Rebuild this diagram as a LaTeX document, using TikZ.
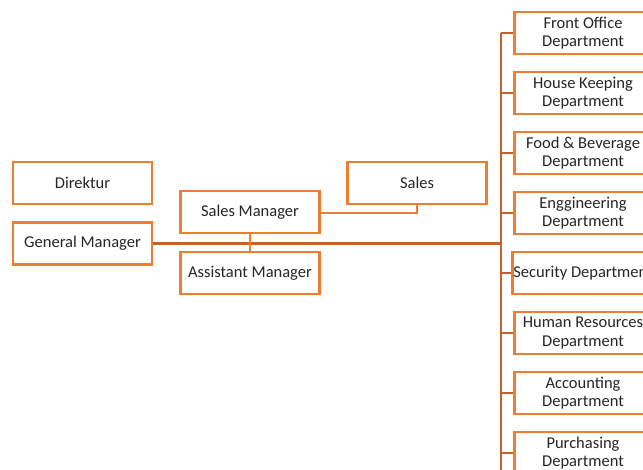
\documentclass[tikz,border=0pt]{standalone}
\usepackage{fontspec}
\setmainfont{Carlito}
\usetikzlibrary{positioning}
\definecolor{boxorange}{HTML}{ED7D31}
\definecolor{lineorange}{HTML}{C5612A}
\definecolor{textgray}{HTML}{262626}
\tikzset{
  orgbox/.style={draw=boxorange,line width=2.5pt,fill=white,minimum width=139pt,
    minimum height=42pt,inner sep=1pt,align=center,text=textgray,
    font=\fontsize{16.5}{18.5}\selectfont},
  mainline/.style={draw=lineorange,line width=3pt},
  busline/.style={draw=lineorange,line width=2.2pt},
  thinline/.style={draw=boxorange,line width=2pt}
}
\begin{document}
\begin{tikzpicture}[x=1pt,y=-1pt]
\useasboundingbox (0,0) rectangle (643,470);
\clip (0,0) rectangle (643,470);
% bus of the departments
\coordinate (b0) at (501,33);
\coordinate (busend) at (501,472);
\draw[busline] (b0) -- (busend);
\foreach \name [count=\i from 0] in {{Front Office\\Department},{House Keeping\\Department},
  {Food \& Beverage\\Department},{Enggineering\\Department},{Security Department},
  {Human Resources\\Department},{Accounting\\Department},{Purchasing\\Department}}{
\node[orgbox,minimum width=137pt] (d\i) at (583,33+60*\i) {\name};
\coordinate (b\i) at (501,33+60*\i);
\draw[busline] (b\i) -- (d\i.west);
}
%left part
\node[orgbox] (dir) at (82.5,183) {Direktur};
\node[orgbox] (gm) at (82.5,243.5) {General Manager};
\node[orgbox] (sm) at (250,212) {Sales Manager};
\node[orgbox] (am) at (250,273) {Assistant Manager};
\node[orgbox] (sales) at (417,183) {Sales};
%connectors
\draw[mainline] (gm.east) -- (gm.east -| busend);
\draw[thinline] (sm.south) -- (am.north);
\draw[thinline] ([yshift=-1.5pt]sm.east) -| (sales.south);
\end{tikzpicture}
\end{document}
